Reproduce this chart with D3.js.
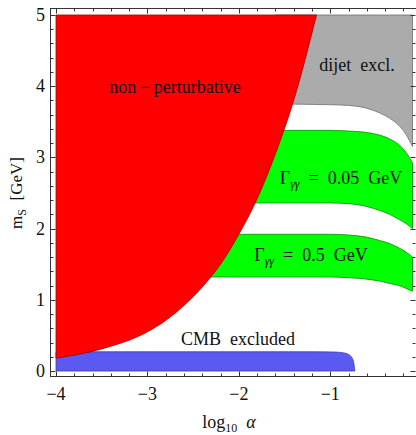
<!DOCTYPE html>
<html><head><meta charset="utf-8">
<script src="https://cdn.jsdelivr.net/npm/d3@7"></script>
<style>
html,body{margin:0;padding:0;background:#fff;}
svg{display:block;font-family:"Liberation Serif","DejaVu Serif",serif;}
</style></head>
<body>
<script>
// ---- data (log10 alpha, m_S in GeV) ----
const xTicks = [-4, -3, -2, -1];
const yTicks = [0, 1, 2, 3, 4, 5];
const xTickLabels = ["\u22124", "\u22123", "\u22122", "\u22121"];
const yTickLabels = ["0", "1", "2", "3", "4", "5"];

// non-perturbative boundary
const redAlpha = [-4, -3.5, -3, -2.8, -2.6, -2.4, -2.2, -2.0, -1.8, -1.6, -1.4, -1.15];
const redM     = [0.18, 0.31, 0.55, 0.71, 0.92, 1.18, 1.5, 1.92, 2.42, 3.05, 3.8, 5.0];

// dijet exclusion lower boundary
const grayAlpha = [-1.6, -1.0, -0.8, -0.6, -0.45, -0.35, -0.25, -0.17, -0.1];
const grayLow   = [3.75, 3.74, 3.73, 3.69, 3.62, 3.55, 3.45, 3.32, 3.15];

// Gamma = 0.05 GeV band
const g005Alpha = [-2.0, -1.5, -1.0, -0.8, -0.6, -0.45, -0.35, -0.25, -0.17, -0.1];
const g005Top   = [3.38, 3.38, 3.38, 3.37, 3.35, 3.31, 3.26, 3.18, 3.07, 2.92];
const g005Bot   = [2.36, 2.36, 2.36, 2.35, 2.31, 2.25, 2.2, 2.13, 2.07, 2.0];

// Gamma = 0.5 GeV band
const g05Alpha = [-2.6, -2.0, -1.0, -0.8, -0.6, -0.45, -0.35, -0.25, -0.17, -0.1];
const g05Top   = [1.92, 1.92, 1.92, 1.91, 1.88, 1.83, 1.79, 1.73, 1.67, 1.6];
const g05Bot   = [1.32, 1.32, 1.32, 1.31, 1.29, 1.26, 1.23, 1.2, 1.16, 1.12];

// CMB excluded
const cmbAlpha = [-4, -3, -2, -1.2, -0.95, -0.87, -0.81, -0.77, -0.745, -0.73];
const cmbTop   = [0.27, 0.27, 0.27, 0.27, 0.266, 0.258, 0.24, 0.2, 0.13, 0.0];

// ---- drawing ----
const W = 416, H = 435;
const frame = {l: 50, r: 416, t: 8, b: 376};
const x = d3.scaleLinear().domain([-4, -0.1]).range([56, 412.5]);
const y = d3.scaleLinear().domain([0, 5]).range([371, 15]);

const svg = d3.select("body").append("svg").attr("width", W).attr("height", H);

function band(al, lo, hi) {
  return al.map((a, i) => ({a, lo: lo[i], hi: hi[i]}));
}
const area = d3.area().x(d => x(d.a)).y0(d => y(d.lo)).y1(d => y(d.hi)).curve(d3.curveMonotoneX);

// gray dijet
svg.append("path").datum(band(grayAlpha, grayLow, grayAlpha.map(() => 5)))
  .attr("d", area).attr("fill", "#ababab").attr("stroke", "#6e6e6e").attr("stroke-width", 0.8);
// green bands
svg.append("path").datum(band(g005Alpha, g005Bot, g005Top))
  .attr("d", area).attr("fill", "#00ff00").attr("stroke", "#0a8a0a").attr("stroke-width", 0.8);
svg.append("path").datum(band(g05Alpha, g05Bot, g05Top))
  .attr("d", area).attr("fill", "#00ff00").attr("stroke", "#0a8a0a").attr("stroke-width", 0.8);
// CMB
svg.append("path").datum(band(cmbAlpha, cmbAlpha.map(() => 0), cmbTop))
  .attr("d", area).attr("fill", "#5a5af2").attr("stroke", "#3a3ab0").attr("stroke-width", 0.8);
// red non-perturbative
svg.append("path").datum(band(redAlpha, redM, redAlpha.map(() => 5)))
  .attr("d", area).attr("fill", "#ff0000").attr("stroke", "#a00000").attr("stroke-width", 0.8);

// frame
const fc = "#333";
const fr = svg.append("g").attr("stroke", fc).attr("stroke-width", 1).attr("fill", "none");
fr.append("rect").attr("x", frame.l + 0.5).attr("y", frame.t + 0.5)
  .attr("width", frame.r - frame.l).attr("height", frame.b - frame.t);

// ticks
const minorX = d3.range(-40, 1, 2).map(v => v / 10).filter(v => x(v) > frame.l && x(v) < frame.r);
const minorY = d3.range(0, 51, 2).map(v => v / 10);
minorX.forEach(v => {
  const major = Math.abs(v - Math.round(v)) < 1e-6;
  const L = major ? 5 : 3;
  const px = Math.round(x(v)) + 0.5;
  fr.append("line").attr("x1", px).attr("x2", px).attr("y1", frame.b + 0.5).attr("y2", frame.b + 0.5 - L);
  fr.append("line").attr("x1", px).attr("x2", px).attr("y1", frame.t + 0.5).attr("y2", frame.t + 0.5 + L);
});
minorY.forEach(v => {
  const major = Math.abs(v - Math.round(v)) < 1e-6;
  const L = major ? 5 : 3;
  const py = Math.round(y(v)) + 0.5;
  fr.append("line").attr("y1", py).attr("y2", py).attr("x1", frame.l + 0.5).attr("x2", frame.l + 0.5 + L);
  fr.append("line").attr("y1", py).attr("y2", py).attr("x1", frame.r - 0.5).attr("x2", frame.r - 0.5 - L);
});

// tick labels
const tl = svg.append("g").attr("font-size", 18).attr("fill", "#111");
xTicks.forEach((v, i) => {
  tl.append("text").attr("x", x(v)).attr("y", 400).attr("text-anchor", "middle").text(xTickLabels[i]);
});
yTicks.forEach((v, i) => {
  tl.append("text").attr("x", 45).attr("y", y(v) + 6).attr("text-anchor", "end").text(yTickLabels[i]);
});

// axis titles
const xt = svg.append("text").attr("x", 229).attr("y", 428).attr("text-anchor", "middle")
  .attr("font-size", 18).attr("fill", "#111");
xt.append("tspan").text("log");
xt.append("tspan").attr("font-size", 12).attr("dy", 4).text("10");
xt.append("tspan").attr("dy", -4).text("\u2002");
xt.append("tspan").attr("font-style", "italic").text("\u03b1");

const yt = svg.append("text").attr("transform", "translate(22,193) rotate(-90)")
  .attr("text-anchor", "middle").attr("font-size", 17).attr("fill", "#111");
yt.append("tspan").text("m");
yt.append("tspan").attr("font-size", 12).attr("dy", 4).text("S");
yt.append("tspan").attr("dy", -4).text("\u2002[GeV]");

// region labels
const lab = svg.append("g").attr("font-size", 18).attr("fill", "#111");
lab.append("text").attr("x", 175).attr("y", 93).attr("text-anchor", "middle").text("non\u2009\u2212\u2009perturbative");
lab.append("text").attr("x", 357).attr("y", 71).attr("text-anchor", "middle").text("dijet\u2002excl.");
lab.append("text").attr("x", 238).attr("y", 345).attr("text-anchor", "middle").text("CMB\u2002excluded");

function gammaLabel(cx, by, val) {
  const t = lab.append("text").attr("x", cx).attr("y", by).attr("text-anchor", "middle");
  t.append("tspan").text("\u0393");
  t.append("tspan").attr("font-size", 12).attr("font-style", "italic").attr("dy", 4).text("\u03b3\u03b3");
  t.append("tspan").attr("dy", -4).text("\u2002=\u2002" + val + "\u2002GeV");
}
gammaLabel(341, 184, "0.05");
gammaLabel(311, 261, "0.5");
</script>
</body></html>
